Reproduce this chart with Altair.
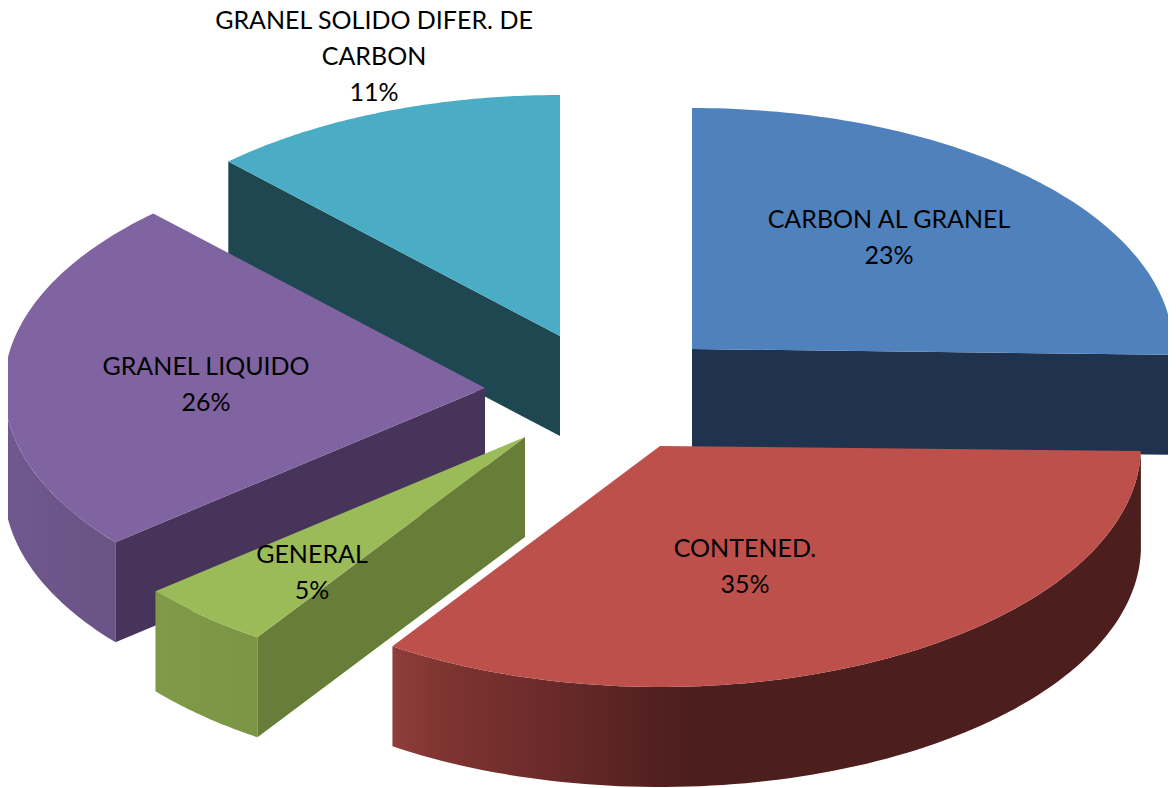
import numpy as np
import pandas as pd
import altair as alt

# Chart values
categories = ["CARBON AL GRANEL", "CONTENED.", "GENERAL", "GRANEL LIQUIDO", "GRANEL SOLIDO DIFER. DE\nCARBON"]
percents = [23, 35, 5, 26, 11]

# Drawing of the tilted pie (page pixels)
start_deg = [0.0, 91.2, 213.8, 230.2, 316.4]
end_deg = [91.4, 213.8, 230.2, 316.4, 360.0]
apex_x = [692, 660, 525, 485, 560]
apex_y = [349, 446, 437, 388, 336]
label_x = [889, 745, 312, 206, 374]
label_y = [220, 549, 555, 367, 21]
RX, RY, DEPTH = 481.0, 241.0, 100.0
W, H = 1160, 780

top_colors = ["#4F81BD", "#BE504C", "#9BBB59", "#8064A2", "#4BACC6"]
wall_colors = ["#1F334F", None, "#687D38", "#46345A", "#1E4751"]


def rim(i, a0, a1, n=90):
    t = np.radians(np.linspace(a0, a1, n))
    return apex_x[i] + RX * np.sin(t), apex_y[i] - RY * np.cos(t)


def polygon(xs, ys):
    return pd.DataFrame({"x": xs, "y": ys, "k": np.arange(len(xs))})


X = alt.Scale(domain=[8, 8 + W], nice=False, zero=False)
Y = alt.Scale(domain=[8 + H, 8], nice=False, zero=False)


def face(df, fill):
    return alt.Chart(df).mark_line(fill=fill, strokeWidth=0, clip=False, interpolate="linear").encode(
        x=alt.X("x:Q", scale=X, axis=None),
        y=alt.Y("y:Q", scale=Y, axis=None),
        order="k:Q",
    )


def grad(stops):
    return alt.Gradient(
        gradient="linear", x1=0, x2=1, y1=0, y2=0,
        stops=[alt.GradientStop(offset=o, color=c) for o, c in stops],
    )


def top(i):
    rx, ry = rim(i, start_deg[i], end_deg[i])
    return face(polygon(np.r_[apex_x[i], rx], np.r_[apex_y[i], ry]), top_colors[i])


def wall(i, deg):
    # flat cut face from the apex to the rim at the given angle
    rx, ry = rim(i, deg, deg, 1)
    xs = [apex_x[i], rx[0], rx[0], apex_x[i]]
    ys = [apex_y[i], ry[0], ry[0] + DEPTH, apex_y[i] + DEPTH]
    return face(polygon(xs, ys), wall_colors[i])


def side(i, a0, a1, fill):
    # curved outer side between two rim angles
    rx, ry = rim(i, a0, a1)
    return face(polygon(np.r_[rx, rx[::-1]], np.r_[ry, (ry + DEPTH)[::-1]]), fill)


red_side = grad([(0, "#8F3E3A"), (0.07, "#7E3431"), (0.2, "#6C2B2A"), (0.37, "#4F1F1F"), (0.42, "#4C1E1D"), (1, "#4C1E1D")])
purple_side = grad([(0, "#705990"), (0.5, "#6C5588"), (1, "#6A5385")])
green_side = grad([(0, "#7F9B49"), (1, "#7A9645")])

labels = pd.DataFrame({
    "t": [f"{c}\n{p}%" for c, p in zip(categories, percents)],
    "x": label_x,
    "y": label_y,
})
text = alt.Chart(labels).mark_text(
    font="Lato", fontSize=25, color="#000000", lineBreak="\n", lineHeight=36,
    align="center", baseline="middle",
).encode(
    x=alt.X("x:Q", scale=X, axis=None),
    y=alt.Y("y:Q", scale=Y, axis=None),
    text="t:N",
)

chart = alt.layer(
    wall(4, 316.4), top(4),
    wall(0, 91.4), top(0),
    side(1, 91.2, 213.8, red_side), top(1),
    side(3, 230.2, 270, purple_side), wall(3, 230.2), top(3),
    side(2, 213.8, 230.2, green_side), wall(2, 213.8), top(2),
    text,
).properties(
    width=W, height=H, padding=0, background="#FFFFFF",
    autosize=alt.AutoSizeParams(type="none"),
).configure_view(stroke=None)

chart.save("out.html", embed_options={"renderer": "svg", "actions": False})
